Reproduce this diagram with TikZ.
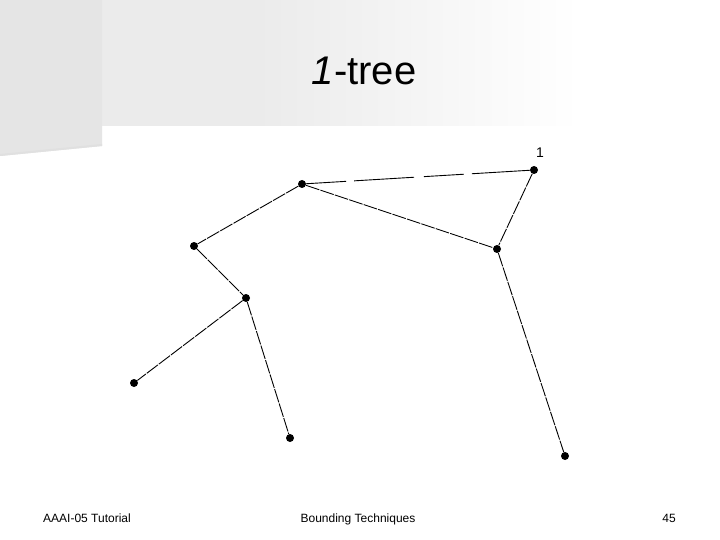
\documentclass[tikz,border=0pt]{standalone}
\usepackage{fontspec}
\setmainfont{Liberation Sans}
\begin{document}
\begin{tikzpicture}[x=1pt,y=-1pt,
  vtx/.style={circle,fill=black,inner sep=0pt,minimum size=8pt},
  edge/.style={line width=0.9pt,dash pattern=on 14pt off 1.2pt},
  foot/.style={font=\fontsize{12}{14}\selectfont,anchor=base}]
\useasboundingbox (0,0) rectangle (720,540);
\fill[white] (0,0) rectangle (720,540);
% header background
\fill[black!8] (0,0) rectangle (250,126);
\shade[left color=black!8,right color=white] (250,0) rectangle (580,126);
\fill[black!10] (0,0) -- (102,0) -- (102,146) -- (0,156) -- cycle;
\fill[black!12] (0,154) -- (102,144) -- (102,146) -- (0,156) -- cycle;
% title
\node[font=\fontsize{40}{44}\selectfont,anchor=base] (title) at (364,85) {\textit{1}-tree};
% vertices
\node[vtx] (n1) at (534,170) {};
\node[font=\fontsize{14}{16}\selectfont] (l1) at (540,153) {1};
\node[vtx] (a) at (302,184) {};
\node[vtx] (b) at (497,249) {};
\node[vtx] (c) at (194,246) {};
\node[vtx] (d) at (246,298) {};
\node[vtx] (e) at (134,383) {};
\node[vtx] (f) at (290,438) {};
\node[vtx] (g) at (565,456) {};
% edges
\draw[line width=0.9pt,dash pattern=on 40pt off 8pt on 60pt off 10pt] (a) -- (n1);
\draw[edge] (a) -- (b);
\draw[edge] (n1) -- (b);
\draw[edge] (a) -- (c);
\draw[edge] (c) -- (d);
\draw[edge] (d) -- (e);
\draw[edge] (d) -- (f);
\draw[edge] (b) -- (g);
% footer
\node[foot] (ft1) at (87,522) {AAAI-05 Tutorial};
\node[foot] (ft2) at (358,522) {Bounding Techniques};
\node[foot] (ft3) at (669,522) {45};
\end{tikzpicture}
\end{document}
